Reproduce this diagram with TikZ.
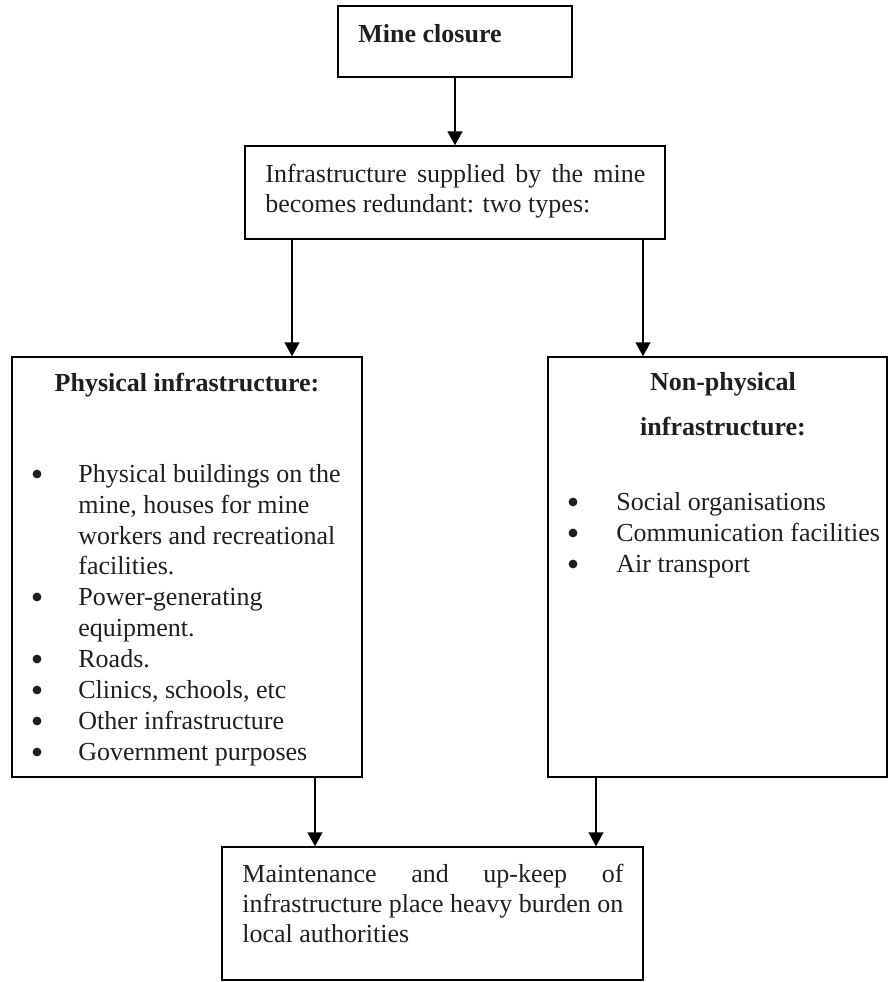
\documentclass[tikz,border=0pt]{standalone}
\usepackage{fontspec}
\setmainfont{Liberation Serif}
\usetikzlibrary{arrows.meta}
\begin{document}
\begin{tikzpicture}[x=0.5pt,y=-0.5pt,
  box/.style={draw, line width=0.75pt, inner sep=0pt},
  txt/.style={anchor=base west, inner sep=0pt, text=black!88, font=\fontsize{13pt}{16pt}\selectfont},
  ctxt/.style={txt, anchor=base},
  dot/.style={circle, fill=black!88, inner sep=0pt, minimum size=4.4pt},
  arr/.style={line width=0.75pt, -{Triangle[length=7pt,width=7.5pt]}}]
\useasboundingbox (0,0) rectangle (890,982);

% boxes
\node[box, minimum width=117pt, minimum height=35.5pt] (mc) at (455,41.5) {};
\node[box, minimum width=210pt, minimum height=46.5pt] (infra) at (455,192.5) {};
\node[box, minimum width=175pt, minimum height=210pt] (phys) at (187,567) {};
\node[box, minimum width=169.5pt, minimum height=210pt] (nonphys) at (717.5,567) {};
\node[box, minimum width=210.5pt, minimum height=66.5pt] (burden) at (432.5,913.5) {};

% top box texts
\node[txt] (mctext) at (358,42) {\bfseries Mine closure};
\node[txt] (inA) at (265,182) {\makebox[190pt][s]{Infrastructure supplied by the mine}};
\node[txt] (inB) at (265,212) {becomes redundant: two types:};

% physical infrastructure
\node[ctxt] (phtitle) at (187,391) {\bfseries Physical infrastructure:};
\node[dot] (pd1) at (37,474) {};
\node[txt] (pl1) at (78,482) {Physical buildings on the};
\node[txt] (pl2) at (78,513) {mine, houses for mine};
\node[txt] (pl3) at (78,544) {workers and recreational};
\node[txt] (pl4) at (78,574) {facilities.};
\node[dot] (pd2) at (37,597) {};
\node[txt] (pl5) at (78,605) {Power-generating};
\node[txt] (pl6) at (78,636) {equipment.};
\node[dot] (pd3) at (37,659) {};
\node[txt] (pl7) at (78,667) {Roads.};
\node[dot] (pd4) at (37,690) {};
\node[txt] (pl8) at (78,698) {Clinics, schools, etc};
\node[dot] (pd5) at (37,721) {};
\node[txt] (pl9) at (78,729) {Other infrastructure};
\node[dot] (pd6) at (37,752) {};
\node[txt] (pl10) at (78,760) {Government purposes};

% non-physical infrastructure
\node[ctxt] (nptitleA) at (723,390) {\bfseries Non-physical};
\node[ctxt] (nptitleB) at (723,435) {\bfseries infrastructure:};
\node[dot] (nd1) at (573,502) {};
\node[txt] (nl1) at (616,510) {Social organisations};
\node[dot] (nd2) at (573,533) {};
\node[txt] (nl2) at (616,541) {Communication facilities};
\node[dot] (nd3) at (573,564) {};
\node[txt] (nl3) at (616,572) {Air transport};

% bottom box text
\node[txt] (bA) at (242,882) {\makebox[190.5pt][s]{Maintenance and up-keep of}};
\node[txt] (bB) at (242,912) {\makebox[190.5pt][s]{infrastructure place heavy burden on}};
\node[txt] (bC) at (242,942) {local authorities};

% connector columns
\coordinate (xa) at (292,0);
\coordinate (xb) at (643,0);
\coordinate (xc) at (315,0);
\coordinate (xd) at (596,0);

\draw[arr] (mc.south) -- (infra.north);
\draw[arr] (infra.south -| xa) -- (phys.north -| xa);
\draw[arr] (infra.south -| xb) -- (nonphys.north -| xb);
\draw[arr] (phys.south -| xc) -- (burden.north -| xc);
\draw[arr] (nonphys.south -| xd) -- (burden.north -| xd);
\end{tikzpicture}
\end{document}
